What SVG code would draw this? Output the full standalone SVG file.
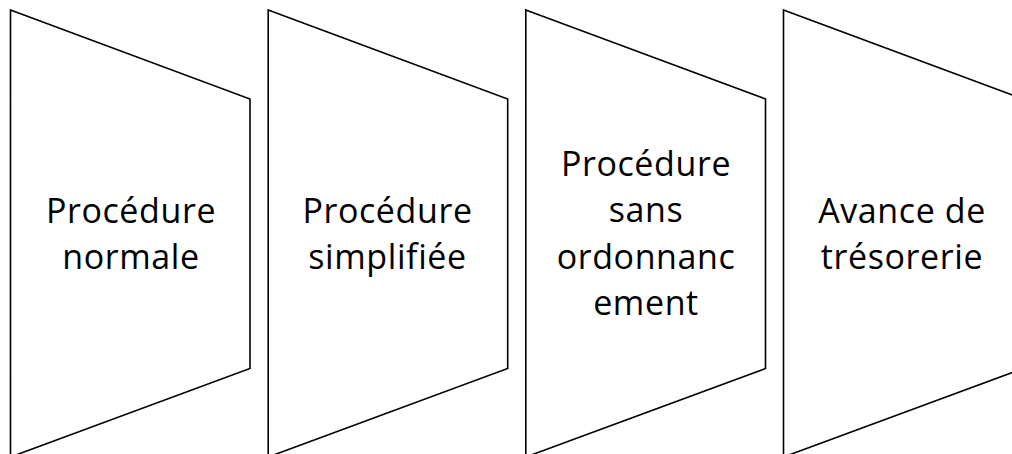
<svg xmlns="http://www.w3.org/2000/svg" width="1012" height="454" viewBox="0 0 1012 454">
<style>
.shape{fill:#fff;stroke:#000;stroke-width:1.6;stroke-linejoin:miter}
.lbl{font-family:"Open Sans","Noto Sans","Liberation Sans",sans-serif;font-size:34px;letter-spacing:0.6px;fill:#000;text-anchor:middle}
</style>
<rect width="1012" height="454" fill="#fff"/>
<g id="connectors"/>
<g id="node1">
<polygon class="shape" points="10.5,10 250,99 250,368.5 10.5,457"/>
<text class="lbl" x="131" y="222.5">Procédure</text>
<text class="lbl" x="131" y="268.5">normale</text>
</g>
<g id="node2">
<polygon class="shape" points="268.2,10 507.7,99 507.7,368.5 268.2,457"/>
<text class="lbl" x="387.5" y="222.5">Procédure</text>
<text class="lbl" x="387.5" y="268.5">simplifiée</text>
</g>
<g id="node3">
<polygon class="shape" points="525.8,10 765.5,99 765.5,368.5 525.8,457"/>
<text class="lbl" x="646" y="175.5">Procédure</text>
<text class="lbl" x="646" y="222">sans</text>
<text class="lbl" x="646" y="268.5">ordonnanc</text>
<text class="lbl" x="646" y="315">ement</text>
</g>
<g id="node4">
<polygon class="shape" points="783.5,10 1023,99 1023,368.5 783.5,457"/>
<text class="lbl" x="902" y="222.5">Avance de</text>
<text class="lbl" x="902" y="268.5">trésorerie</text>
</g>
</svg>
